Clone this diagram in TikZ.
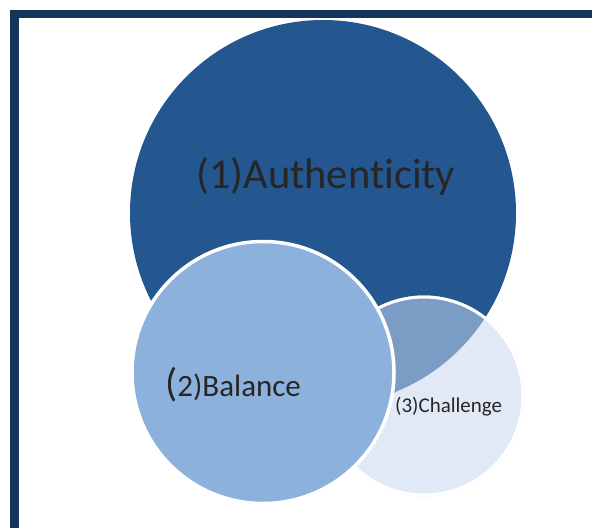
\documentclass[tikz,border=0pt]{standalone}
\usepackage{fontspec}
\setmainfont{Carlito}[Ligatures={NoCommon}]
\definecolor{framec}{HTML}{14365C}
\definecolor{authc}{HTML}{245690}
\definecolor{balc}{HTML}{8DB1DD}
\definecolor{chalc}{HTML}{E1E9F6}
\definecolor{overc}{HTML}{7B9CC4}
\definecolor{txtc}{HTML}{262626}
\tikzset{
  ring/.style={circle, inner sep=0pt, outer sep=0pt},
  lbl/.style={anchor=base west, inner sep=0pt, text=txtc},
}
\begin{document}
\begin{tikzpicture}[x=1pt,y=-1pt]
\useasboundingbox (0,0) rectangle (592,528);
\fill[white] (0,0) rectangle (592,528);
% frame
\fill[framec] (10,10) rectangle (592,18);
\fill[framec] (10,10) rectangle (19,528);
% authenticity
\node[ring, fill=authc, minimum size=386pt] (auth) at (323,213) {};
% challenge
\node[ring, fill=chalc, minimum size=201pt] (chal) at (424,396) {};
\begin{scope}
  \clip (chal.center) circle (100.5pt);
  \fill[overc] (auth.center) circle (193pt);
\end{scope}
\draw[white, line width=3pt] (chal.center) circle (99pt);
% balance
\node[ring, fill=balc, draw=white, line width=3.5pt, minimum size=262pt] (bal) at (263,372.5) {};
% labels
\node[lbl, font=\fontsize{42.5}{50}\selectfont] (t1) at (196,188) {(1)Authenticity};
\node[lbl, font=\fontsize{31}{36}\selectfont] (t2) at (165,396) {{\fontsize{40}{44}\selectfont(}2)Balance};
\node[lbl, font=\fontsize{21}{25}\selectfont] (t3) at (395,412) {(3)Challenge};
\end{tikzpicture}
\end{document}
